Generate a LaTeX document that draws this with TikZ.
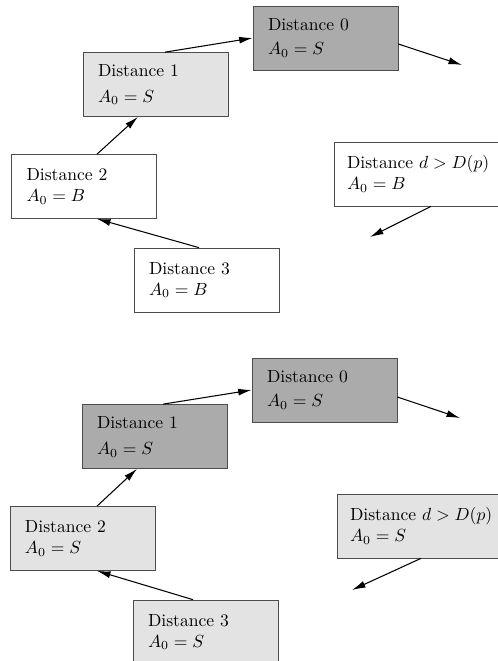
\documentclass[tikz,border=0pt]{standalone}
\usepackage{tikz}
\usetikzlibrary{positioning, arrows.meta}

\tikzset{
    state/.style={draw=black!70, rectangle, align=left, text width=2.3cm,
        inner xsep=0.3cm, minimum height=1.28cm},
    far/.style={state, text width=3.3cm, inner xsep=0.26cm},
    hot/.style={fill=black!33},
    warm/.style={fill=black!11},
    link/.style={semithick, -{Latex[length=2.7mm, width=1.4mm]}}
}

\begin{document}
\begin{tikzpicture}
    \useasboundingbox (0, 0) rectangle (9.96, -13.22);
    \clip (0, 0) rectangle (9.96, -13.22);

    % upper picture
    \node[state, hot] (topzero) at (6.51, -0.76) {Distance 0\\[2pt]$A_0 = S$};
    \node[state, warm] (topone) at (3.11, -1.69) {Distance 1\\[3pt]$A_0 = S$};
    \node[state] (toptwo) at (1.68, -3.73) {Distance 2\\$A_0 = B$};
    \node[state] (topthree) at (4.13, -5.60) {Distance 3\\$A_0 = B$};
    \node[far] (topfar) at (8.59, -3.48) {Distance $d > D(p)$\\$A_0 = B$};
    \coordinate (topout) at (9.24, -1.30);
    \coordinate (topin) at (7.40, -4.74);

    \draw[link] ([xshift=0.19cm]topone.north) -- (topzero.west);
    \draw[link] ([yshift=-0.12cm]topzero.east) -- (topout);
    \draw[link] ([xshift=0.26cm]toptwo.north) -- ([xshift=-0.35cm]topone.south);
    \draw[link] ([xshift=-0.15cm]topthree.north) -- ([xshift=0.26cm]toptwo.south);
    \draw[link] ([xshift=0.03cm]topfar.south) -- (topin);

    % lower picture
    \node[state, hot] (lowzero) at (6.49, -7.80) {Distance 0\\[2pt]$A_0 = S$};
    \node[state, hot] (lowone) at (3.09, -8.73) {Distance 1\\[3pt]$A_0 = S$};
    \node[state, warm] (lowtwo) at (1.65, -10.77) {Distance 2\\$A_0 = S$};
    \node[state, warm] (lowthree) at (4.11, -12.64) {Distance 3\\$A_0 = S$};
    \node[far, warm] (lowfar) at (8.65, -10.52) {Distance $d > D(p)$\\$A_0 = S$};
    \coordinate (lowout) at (9.20, -8.36);
    \coordinate (lowin) at (7.04, -11.80);

    \draw[link] ([xshift=0.17cm]lowone.north) -- (lowzero.west);
    \draw[link] ([yshift=-0.14cm]lowzero.east) -- (lowout);
    \draw[link] ([xshift=0.29cm]lowtwo.north) -- ([xshift=-0.35cm]lowone.south);
    \draw[link] ([xshift=-0.25cm]lowthree.north) -- ([xshift=0.29cm]lowtwo.south);
    \draw[link] ([xshift=-0.23cm]lowfar.south) -- (lowin);
\end{tikzpicture}
\end{document}
